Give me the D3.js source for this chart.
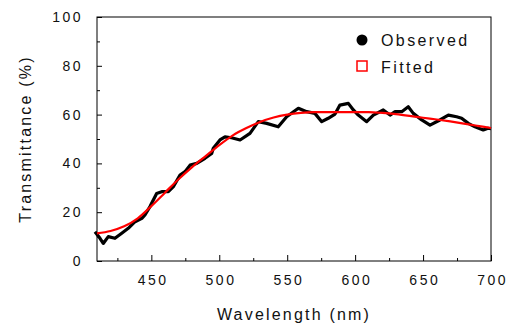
<!DOCTYPE html>
<html>
<head>
<meta charset="utf-8">
<script src="https://cdn.jsdelivr.net/npm/d3@7"></script>
<style>
  body { margin: 0; background: #fff; }
  svg { display: block; font-family: "Liberation Sans", Arial, sans-serif; }
</style>
</head>
<body>
<div id="chart"></div>
<script>
// observed spectrum
const obsWave = [408.5, 412.2, 414.6, 418.3, 423.2, 428.2, 433, 438, 443, 445.3, 449, 453.9, 457.6, 462.5, 466.2,
  471.1, 474.8, 478.5, 483.4, 489.5, 494.4, 495.6, 500.5, 504.2, 509, 515.3, 522.6, 528.7, 534.9, 543.4, 549.6,
  558.2, 564.3, 570.4, 575.4, 580.2, 585.2, 588.8, 595, 598.7, 602.3, 608.5, 613.4, 620.7, 625.7, 629.4, 634.3,
  639.1, 642.8, 649, 655.1, 662.4, 668.6, 674.7, 678.4, 683.3, 688.2, 694.3, 697.8, 700];
const obsTrans = [12, 9.3, 7.2, 10, 9.3, 11.4, 13.4, 16.1, 17.5, 18.9, 22.3, 27.7, 28.4, 28.4, 30.5,
  35.2, 36.6, 39.3, 40, 42.1, 44.1, 46.2, 49.6, 50.9, 50.5, 49.6, 52.3, 57.1, 56.4, 55, 59.1,
  62.6, 61.2, 60.5, 57.1, 58.5, 60.2, 63.9, 64.6, 61.9, 59.8, 57.1, 59.8, 61.9, 59.8, 61.2, 61.2,
  63.2, 60.5, 57.8, 55.7, 57.8, 59.8, 59.1, 58.5, 56.4, 55, 53.7, 54.4, 54.2];

// fitted curve
const fitWave = [410, 420, 430, 440, 450, 460, 470, 480, 490, 500, 510, 520, 530, 540, 550,
  560, 570, 580, 590, 600, 610, 620, 630, 640, 650, 660, 670, 680, 690, 700];
const fitTrans = [11.3, 12.3, 14.2, 17.5, 22.5, 28, 33.5, 38.5, 43, 47.5, 51.5, 54.5, 57, 58.8, 60,
  60.7, 61, 61, 61, 61, 61, 60.7, 60.2, 59.5, 58.7, 58, 57.2, 56.3, 55.4, 54.5];

const xMajor = [450, 500, 550, 600, 650, 700];
const xMinor = [425, 475, 525, 575, 625, 675];
const yMajor = [0, 20, 40, 60, 80, 100];
const yMinor = [10, 30, 50, 70, 90];

const W = 508, H = 334;
const margin = { left: 97, top: 17, right: 17, bottom: 73 };
const iw = W - margin.left - margin.right;
const ih = H - margin.top - margin.bottom;

const svg = d3.select("#chart").append("svg")
  .attr("width", W).attr("height", H);

const g = svg.append("g").attr("transform", `translate(${margin.left},${margin.top})`);

const x = d3.scaleLinear().domain([410, 700]).range([0, iw]);
const y = d3.scaleLinear().domain([0, 100]).range([ih, 0]);

// inward ticks
const xAxis = g.append("g").attr("transform", `translate(0,${ih})`)
  .call(d3.axisBottom(x).tickValues(xMajor).tickSize(-6).tickPadding(14).tickFormat(d3.format("d")));
g.append("g").attr("transform", `translate(0,${ih})`)
  .call(d3.axisBottom(x).tickValues(xMinor).tickSize(-3).tickFormat(""));
const yAxis = g.append("g")
  .call(d3.axisLeft(y).tickValues(yMajor).tickSize(-5).tickPadding(14).tickFormat(d3.format("d")));
g.append("g")
  .call(d3.axisLeft(y).tickValues(yMinor).tickSize(-3).tickFormat(""));

g.selectAll(".domain").remove();
g.selectAll(".tick line").attr("stroke", "#000");
g.selectAll(".tick text")
  .attr("fill", "#111")
  .style("font-size", "14px")
  .style("letter-spacing", "2.5px");
xAxis.selectAll(".tick text").attr("dx", "1.2px");

// frame
g.append("rect")
  .attr("width", iw).attr("height", ih)
  .attr("fill", "none").attr("stroke", "#000").attr("stroke-width", 1);

const obs = obsWave.map((w, i) => [w, obsTrans[i]]);
const fit = fitWave.map((w, i) => [w, fitTrans[i]]);

// observed
g.append("path")
  .datum(obs)
  .attr("fill", "none")
  .attr("stroke", "#000")
  .attr("stroke-width", 3.2)
  .attr("stroke-linejoin", "round")
  .attr("d", d3.line().x(d => x(d[0])).y(d => y(d[1])));

// fitted
g.append("path")
  .datum(fit)
  .attr("fill", "none")
  .attr("stroke", "#ff0000")
  .attr("stroke-width", 2.2)
  .attr("d", d3.line().x(d => x(d[0])).y(d => y(d[1])).curve(d3.curveMonotoneX));

// legend
const leg = svg.append("g");
leg.append("circle").attr("cx", 362).attr("cy", 40).attr("r", 5.5).attr("fill", "#000");
leg.append("text").attr("x", 381).attr("y", 46).text("Observed")
  .attr("fill", "#111")
  .style("font-size", "16px").style("letter-spacing", "2.4px");
leg.append("rect").attr("x", 357).attr("y", 61).attr("width", 10).attr("height", 10)
  .attr("fill", "none").attr("stroke", "#ff0000").attr("stroke-width", 1.5);
leg.append("text").attr("x", 381).attr("y", 73).text("Fitted")
  .attr("fill", "#111")
  .style("font-size", "16px").style("letter-spacing", "2.4px");

// axis titles
svg.append("text")
  .attr("x", margin.left + iw / 2).attr("y", 320)
  .attr("text-anchor", "middle")
  .attr("fill", "#111")
  .style("font-size", "16px").style("letter-spacing", "2.2px")
  .text("Wavelength (nm)");
svg.append("text")
  .attr("transform", `translate(31,${margin.top + ih / 2}) rotate(-90)`)
  .attr("text-anchor", "middle")
  .attr("fill", "#111")
  .style("font-size", "16px").style("letter-spacing", "2.2px")
  .text("Transmittance (%)");
</script>
</body>
</html>
